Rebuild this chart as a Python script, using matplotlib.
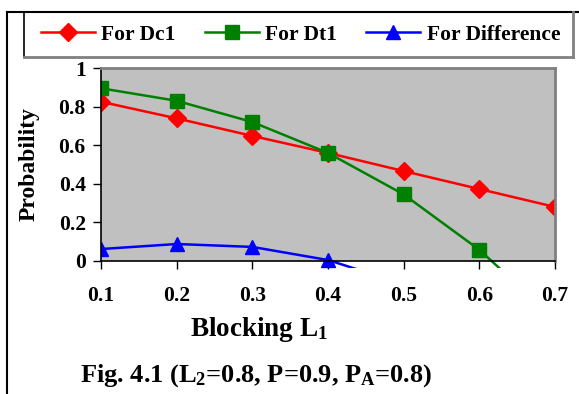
import matplotlib
matplotlib.use("Agg")
import matplotlib.pyplot as plt
from matplotlib.lines import Line2D
from matplotlib.patches import Rectangle

# ── data ────────────────────────────────────────────────────────────────────
blocking_l1 = [0.1, 0.2, 0.3, 0.4, 0.5, 0.6, 0.7]
dc1 = [0.825, 0.739, 0.648, 0.56, 0.466, 0.373, 0.28]
dt1 = [0.895, 0.83, 0.72, 0.56, 0.345, 0.058, -0.30]
difference = [0.062, 0.088, 0.073, 0.005, -0.12, -0.32, -0.58]
x_ticks = [0.1, 0.2, 0.3, 0.4, 0.5, 0.6, 0.7]
y_ticks = [0, 0.2, 0.4, 0.6, 0.8, 1]
y_tick_labels = ["0", "0.2", "0.4", "0.6", "0.8", "1"]

plt.rcParams["font.family"] = ["Liberation Serif", "DejaVu Serif"]
plt.rcParams["font.weight"] = "bold"
plt.rcParams["mathtext.default"] = "regular"

W, H = 579, 394
fig = plt.figure(figsize=(W / 100, H / 100), dpi=100)

ax = fig.add_axes([101 / W, 1 - 261 / H, (555 - 101) / W, (261 - 68) / H])
ax.set_facecolor("#c0c0c0")

# lines run a little past the bottom of the plot area, like the original
clip = Rectangle((0, -0.036), 1, 1.036, transform=ax.transAxes)
series = [
    (dc1, "#ff0000", "D", 9, "For Dc1"),
    (dt1, "#008000", "s", 10.5, "For Dt1"),
    (difference, "#0000ff", "^", 10.5, "For Difference"),
]
handles = []
for vals, color, marker, ms, label in series:
    (ln,) = ax.plot(blocking_l1, vals, color=color, marker=marker, markersize=ms,
                    linewidth=1.8, label=label, clip_on=True)
    ln.set_clip_path(clip)
    handles.append(ln)

ax.set_xlim(0.1, 0.7)
ax.set_ylim(0, 1)
ax.set_xticks(x_ticks)
ax.set_xticklabels([f"{v:.1f}" for v in x_ticks])
ax.set_yticks(y_ticks)
ax.set_yticklabels(y_tick_labels)
ax.tick_params(axis="both", direction="out", length=6, width=1, labelsize=15.5,
               colors="black")
ax.tick_params(axis="x", pad=12)
ax.tick_params(axis="y", pad=5)
for side in ["top", "right"]:
    ax.spines[side].set_color("#808080")
    ax.spines[side].set_linewidth(2)
for side in ["left", "bottom"]:
    ax.spines[side].set_color("black")
    ax.spines[side].set_linewidth(1.2)

# axis titles placed where the original has them
fig.text(190 / W, 1 - 329 / H, "Blocking L$_1$", fontsize=19.5,
         fontweight="bold", ha="left", va="center")
fig.text(29 / W, 1 - 164 / H, "Probability", fontsize=17, fontweight="bold",
         ha="center", va="center", rotation=90)

# caption
fig.text(80 / W, 1 - 376 / H, "Fig. 4.1 (L$_2$=0.8, P=0.9, P$_A$=0.8)",
         fontsize=19, fontweight="bold", ha="left", va="center")

# outer frame (left and top edges)
fig.add_artist(Line2D([7 / W, 7 / W], [0, 1 - 12 / H], color="black", lw=1.5,
                      transform=fig.transFigure))
fig.add_artist(Line2D([7 / W, 1], [1 - 12 / H, 1 - 12 / H], color="black", lw=1.5,
                      transform=fig.transFigure))

# legend box
lx0, lx1, ly0, ly1 = 24 / W, 573 / W, 1 - 57 / H, 1 - 12 / H
fig.add_artist(Line2D([lx0, lx0], [ly0, ly1], color="black", lw=1.2,
                      transform=fig.transFigure))
fig.add_artist(Line2D([lx0, lx1], [ly0, ly0], color="#808080", lw=2,
                      transform=fig.transFigure))
fig.add_artist(Line2D([lx1, lx1], [ly0, ly1], color="#808080", lw=2,
                      transform=fig.transFigure))

leg = fig.legend(handles=handles, loc="center left", ncol=3,
                 bbox_to_anchor=(41 / W, (ly0 + ly1) / 2),
                 frameon=False, fontsize=15.5, handlelength=2.5,
                 handletextpad=0.3, columnspacing=1.36, borderaxespad=0,
                 borderpad=0)
for t in leg.get_texts():
    t.set_fontweight("bold")

fig.savefig("out.png", dpi=100)
